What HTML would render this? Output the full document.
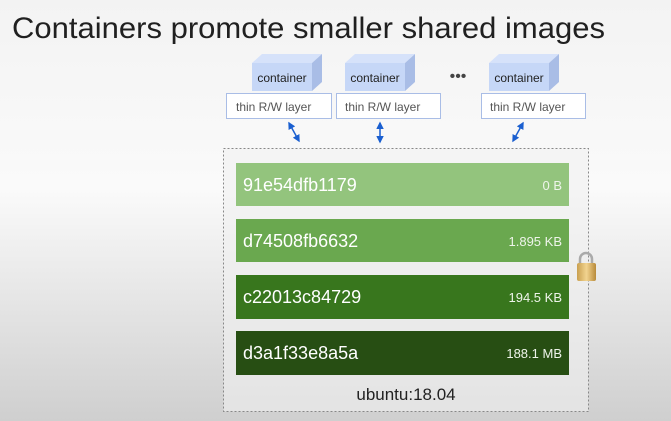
<!DOCTYPE html>
<html><head><meta charset="utf-8"><style>
html,body{margin:0;padding:0;width:671px;height:421px;overflow:hidden}
</style></head><body>
<svg width="671" height="421" xmlns="http://www.w3.org/2000/svg" font-family="Liberation Sans, sans-serif">
<defs>
<linearGradient id="bg" x1="0" y1="0" x2="0" y2="1">
<stop offset="0" stop-color="#f3f3f3"/><stop offset="0.45" stop-color="#fafafa"/><stop offset="1" stop-color="#cfcfcf"/>
</linearGradient>
<linearGradient id="lk" x1="0" y1="0" x2="1" y2="0">
<stop offset="0" stop-color="#c9a050"/><stop offset="0.5" stop-color="#f2d490"/><stop offset="1" stop-color="#b88a3a"/>
</linearGradient>
<marker id="ah" viewBox="0 0 10 10" refX="8" refY="5" markerWidth="5" markerHeight="5" orient="auto-start-reverse"><path d="M0,0L10,5L0,10z" fill="#1a5fd0"/></marker>
</defs>
<rect width="671" height="421" fill="url(#bg)"/>
<text x="12" y="38" font-size="30" fill="#202020" textLength="593" lengthAdjust="spacingAndGlyphs">Containers promote smaller shared images</text>

<g id="c">
<polygon points="252,63 262,54 322,54 312,63" fill="#d6e2fa"/>
<polygon points="312,63 322,54 322,82 312,91" fill="#a9bde6"/>
<rect x="252" y="63" width="60" height="28" fill="#c6d7f7"/>
</g>
<use href="#c" x="93"/><use href="#c" x="237"/>
<text x="282" y="82" font-size="12" fill="#222" text-anchor="middle">container</text>
<text x="375" y="82" font-size="12" fill="#222" text-anchor="middle">container</text>
<text x="519" y="82" font-size="12" fill="#222" text-anchor="middle">container</text>
<text x="458" y="81" font-size="16" fill="#444" text-anchor="middle">•••</text>

<g fill="#fff" stroke="#a9bde6" stroke-width="1">
<rect x="226.5" y="93.5" width="105" height="25"/>
<rect x="336.5" y="93.5" width="104" height="25"/>
<rect x="481.5" y="93.5" width="104" height="25"/>
</g>
<g font-size="12" fill="#555">
<text x="236" y="111">thin R/W layer</text>
<text x="345" y="111">thin R/W layer</text>
<text x="490" y="111">thin R/W layer</text>
</g>
<g stroke="#1a5fd0" stroke-width="1.5" marker-start="url(#ah)" marker-end="url(#ah)">
<line x1="289" y1="123" x2="299" y2="141"/>
<line x1="380" y1="123" x2="380" y2="142"/>
<line x1="523" y1="123" x2="513" y2="141"/>
</g>

<rect x="223.5" y="148.5" width="365" height="263" fill="#f0f0f0" fill-opacity="0.6" stroke="#888" stroke-dasharray="2,2"/>
<rect x="236" y="163" width="333" height="43" fill="#93c47d"/>
<rect x="236" y="219" width="333" height="43" fill="#6aa84f"/>
<rect x="236" y="275" width="333" height="44" fill="#38761d"/>
<rect x="236" y="331" width="333" height="44" fill="#274e13"/>
<g fill="#fff" font-size="18">
<text x="243" y="191">91e54dfb1179</text>
<text x="243" y="247">d74508fb6632</text>
<text x="243" y="303">c22013c84729</text>
<text x="243" y="359">d3a1f33e8a5a</text>
</g>
<g fill="#eef4ea" font-size="13" text-anchor="end">
<text x="562" y="190">0 B</text>
<text x="562" y="246">1.895 KB</text>
<text x="562" y="302">194.5 KB</text>
<text x="562" y="358">188.1 MB</text>
</g>
<text x="406" y="400" font-size="17" fill="#222" text-anchor="middle">ubuntu:18.04</text>

<path d="M580,264 v-5 a6,6 0 0 1 12,0 v5" fill="none" stroke="#aaa" stroke-width="2.5"/>
<rect x="577" y="263" width="19" height="18" rx="2" fill="url(#lk)"/>
</svg>
</body></html>
